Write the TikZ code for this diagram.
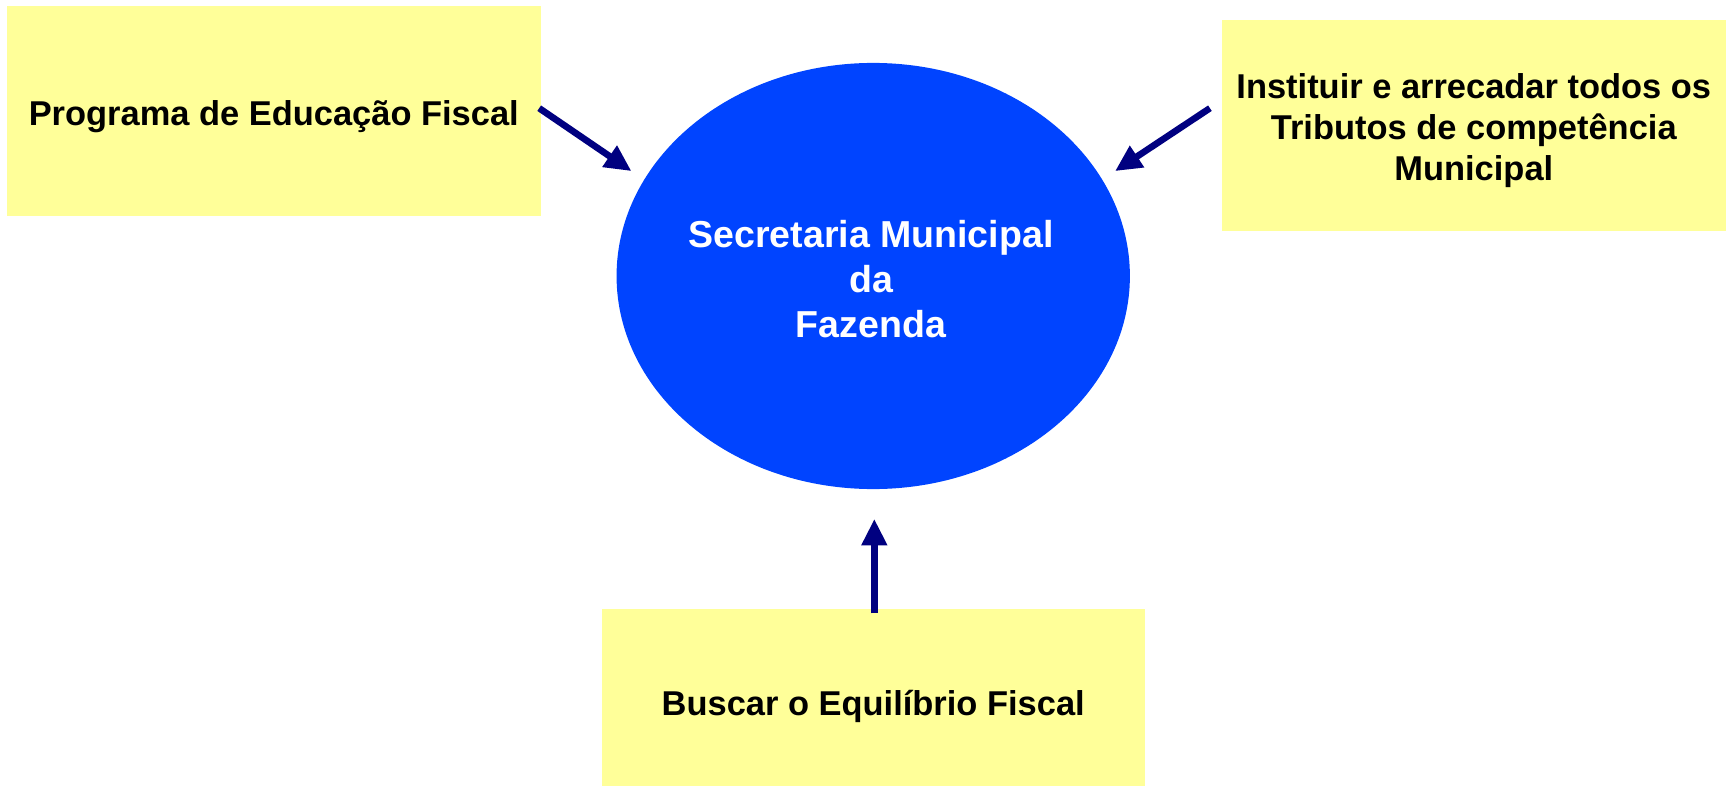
\documentclass[tikz,border=0pt]{standalone}
\usepackage{fontspec}
\setmainfont{Liberation Sans}
\usetikzlibrary{shapes.geometric,arrows.meta}
\definecolor{boxyellow}{HTML}{FFFF99}
\definecolor{ellblue}{HTML}{0044FF}
\definecolor{arrownavy}{HTML}{000080}
\begin{document}
\begin{tikzpicture}[x=0.5pt,y=-0.5pt,
  box/.style={rectangle, fill=boxyellow, inner sep=0pt},
  boxtext/.style={inner sep=0pt, align=center, font=\fontsize{15.6}{18.5}\selectfont\bfseries},
  conn/.style={draw=arrownavy, line width=3pt, -{Triangle[length=12pt,width=11pt]}}]
\useasboundingbox (0,0) rectangle (1568,714);
\node[box, minimum width=242pt, minimum height=95.5pt] (edu) at (248,100.5) {};
\node[box, minimum width=228pt, minimum height=95.5pt] (trib) at (1335,113.5) {};
\node[box, minimum width=246pt, minimum height=80pt] (equi) at (791,632) {};
\node[boxtext] (edut) at (248,105.5) {Programa de Educação Fiscal};
\node[boxtext] (tribt) at (1335,118.5) {Instituir e arrecadar todos os\\Tributos de competência\\Municipal};
\node[boxtext] (equit) at (791,640) {Buscar o Equilíbrio Fiscal};
\node[ellipse, fill=ellblue, inner sep=0pt, minimum width=232.5pt, minimum height=193pt] (sec) at (791,250) {};
\node[text=white, inner sep=0pt, align=center, font=\fontsize{17}{20.5}\selectfont\bfseries] (sect) at (789,253) {Secretaria Municipal\\da\\Fazenda};
\coordinate (a1e) at (572,155);
\coordinate (a2s) at (1096,98);
\coordinate (a2e) at (1010,155);
\coordinate (a3e) at (792,470);
\draw[conn] ([shift={(-2,-2.5)}]edu.east) -- (a1e);
\draw[conn] (a2s) -- (a2e);
\draw[conn] ([shift={(1,4)}]equi.north) -- (a3e);
\end{tikzpicture}
\end{document}
